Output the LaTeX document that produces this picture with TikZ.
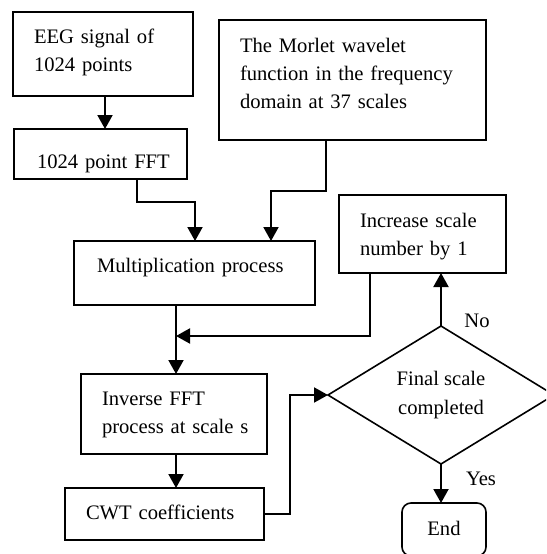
\documentclass[tikz,border=0pt]{standalone}
\usepackage{fontspec}
\setmainfont{Liberation Serif}
\usetikzlibrary{arrows.meta,shapes.geometric}
\begin{document}
\begin{tikzpicture}[x=1pt,y=-1pt,
  txt/.style={font=\fontsize{20.6}{28.3}\selectfont},
  box/.style={txt, draw, line width=1.6pt, inner sep=0pt, outer sep=0pt, anchor=north west, align=left},
  lpad/.style={execute at begin node={\leftskip=#1\relax}},
  conn/.style={line width=2pt, -{Triangle[width=15pt,length=14pt]}},
  lbl/.style={txt, anchor=base, inner sep=0pt}]
\useasboundingbox (0,0) rectangle (546,554);
\clip (0,0) rectangle (546,554);

\node[box, lpad=21pt, text width=180pt, text height=31pt, text depth=53pt] (eeg) at (13,12) {EEG signal of\\1024 points};
\node[box, lpad=23pt, text width=173pt, text height=39pt, text depth=11pt] (fft) at (14,129) {1024 point FFT};
\node[box, lpad=21pt, text width=267pt, text height=32pt, text depth=88pt] (mor) at (219,20) {The Morlet wavelet\\function in the frequency\\domain at 37 scales};
\node[box, lpad=23pt, text width=241pt, text height=31pt, text depth=33pt] (mult) at (74,241) {Multiplication process};
\node[box, lpad=21pt, text width=167pt, text height=32pt, text depth=46pt] (inc) at (339,195) {Increase scale\\number by 1};
\node[box, lpad=21pt, text width=186pt, text height=31pt, text depth=49pt] (inv) at (81,374) {Inverse FFT\\process at scale s};
\node[box, lpad=21pt, text width=199pt, text height=31pt, text depth=21pt] (cwt) at (65,488) {CWT coefficients};
\node[txt, draw, diamond, line width=1.6pt, inner sep=0pt, outer sep=0pt, shape aspect=1.64,
      minimum width=226pt, minimum height=138pt, align=center] (dia) at (441,395) {Final scale\\completed};
\node[box, align=center, rounded corners=9pt, text width=84pt, text height=32pt, text depth=21pt] (endn) at (402,503) {End};

\node[lbl] (no) at (477,327) {No};
\node[lbl] (yes) at (481,485) {Yes};

\coordinate (c1) at (105,0);
\coordinate (b1) at (137,202);
\coordinate (b2) at (195,202);
\coordinate (b3) at (326,191);
\coordinate (b4) at (271,191);
\coordinate (b5) at (176,336);
\coordinate (b6) at (370,336);
\coordinate (b8) at (290,395);

\draw[conn] (eeg.south -| c1) -- (fft.north -| c1);
\draw[conn] (fft.south -| b1) -- (b1) -- (b2) -- (mult.north -| b2);
\draw[conn] (mor.south -| b3) -- (b3) -- (b4) -- (mult.north -| b4);
\draw[conn] (mult.south -| b5) -- (inv.north -| b5);
\draw[conn] (inc.south -| b6) -- (b6) -- (b5);
\draw[conn] (inv.south -| b5) -- (cwt.north -| b5);
\draw[conn] (cwt.east) -| (b8) -- (dia.west);
\draw[conn] (dia.north) -- (dia.north |- inc.south);
\draw[conn] (dia.south) -- (dia.south |- endn.north);
\end{tikzpicture}
\end{document}
